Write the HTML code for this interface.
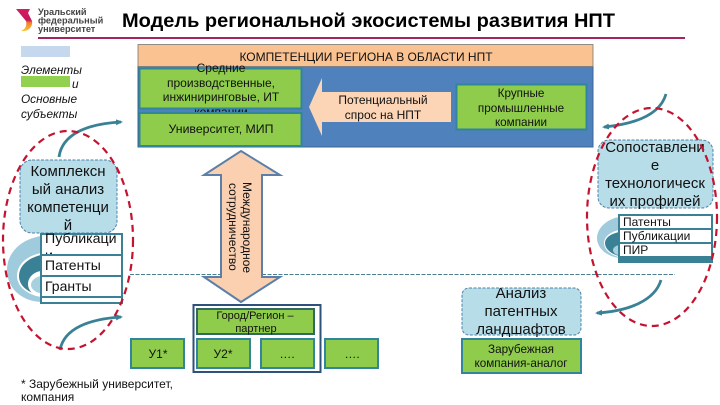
<!DOCTYPE html>
<html><head><meta charset="utf-8">
<style>
html,body{margin:0;padding:0;background:#fff}
svg{display:block;font-family:"Liberation Sans",sans-serif}
text{fill:#111}
.c{text-anchor:middle}
</style></head><body>
<svg width="720" height="405" viewBox="0 0 720 405" xmlns="http://www.w3.org/2000/svg">
<defs>
<linearGradient id="lg" x1="0" y1="0" x2="0" y2="1"><stop offset="0" stop-color="#d81b60"/><stop offset=".5" stop-color="#c2185b"/><stop offset=".62" stop-color="#f08030"/><stop offset="1" stop-color="#f9c433"/></linearGradient>
<marker id="ah" markerWidth="8" markerHeight="8" refX="5" refY="3" orient="auto" markerUnits="userSpaceOnUse"><path d="M0,0L7,3L0,6Z" fill="#3b8196"/></marker>
</defs>
<rect width="720" height="405" fill="#fff"/>
<!-- logo -->
<path d="M16,9H30L28,13L32,21C33,27 28,32 21,31C26,29 27,25 26,21Z" fill="url(#lg)"/>
<text x="38" y="15" font-size="9.2" font-weight="bold" style="fill:#444">Уральский</text>
<text x="38" y="23.5" font-size="9.2" font-weight="bold" style="fill:#444">федеральный</text>
<text x="38" y="32" font-size="9.2" font-weight="bold" style="fill:#444">университет</text>
<text x="122" y="27" font-size="19.5" font-weight="bold" style="fill:#000" textLength="493" lengthAdjust="spacingAndGlyphs">Модель региональной экосистемы развития НПТ</text>
<rect x="38" y="37" width="647" height="2" fill="#a3245f"/>
<!-- legend -->
<rect x="21" y="46" width="49" height="11" fill="#c5d8ee"/>
<text x="21" y="74" font-size="11.8" font-style="italic">Элементы</text>
<rect x="21" y="76" width="49" height="11" fill="#92d050"/>
<text x="72" y="88" font-size="11.8" font-style="italic">и</text>
<text x="21" y="103" font-size="11.8" font-style="italic">Основные</text>
<text x="21" y="118" font-size="11.8" font-style="italic">субъекты</text>
<!-- main block -->
<rect x="138" y="66" width="455" height="81" fill="#4f81bd" stroke="#3d6593"/>
<rect x="138" y="44.5" width="455" height="22" fill="#fac291" stroke="#777" stroke-width=".8"/>
<text x="366" y="61" class="c" font-size="12">КОМПЕТЕНЦИИ РЕГИОНА В ОБЛАСТИ НПТ</text>
<rect x="139.5" y="68.5" width="162" height="40" fill="#8fcc4c" stroke="#31859c" stroke-width="2"/>
<text x="221" y="72" class="c" font-size="12">Средние</text>
<text x="221" y="87" class="c" font-size="12">производственные,</text>
<text x="221" y="101" class="c" font-size="12">инжиниринговые, ИТ</text>
<text x="221" y="116" class="c" font-size="12">компании</text>
<rect x="139.5" y="113" width="162" height="33" fill="#8fcc4c" stroke="#31859c" stroke-width="2"/>
<text x="221" y="133" class="c" font-size="12.3">Университет, МИП</text>
<path d="M309,107L322,78V92H451V122H322V136Z" fill="#fbd5b5"/>
<text x="383" y="104" class="c" font-size="12">Потенциальный</text>
<text x="383" y="119" class="c" font-size="12">спрос на НПТ</text>
<rect x="456.5" y="84.5" width="130" height="45" fill="#8fcc4c" stroke="#31859c" stroke-width="2"/>
<text x="521" y="97" class="c" font-size="11.7">Крупные</text>
<text x="521" y="112" class="c" font-size="11.7">промышленные</text>
<text x="521" y="126" class="c" font-size="11.7">компании</text>
<!-- dashed divider -->
<line x1="130" y1="274.5" x2="675" y2="274.5" stroke="#4a7f90" stroke-width=".9" stroke-dasharray="4 1.5"/>
<!-- double arrow -->
<path d="M241,151L280,175H262V277H280L241,302L204,277H221V175H204Z" fill="#fbd0b0" stroke="#5b7fa8" stroke-width="2"/>
<text transform="translate(243,182) rotate(90)" font-size="12">Международное</text>
<text transform="translate(229,183) rotate(90)" font-size="12">сотрудничество</text>
<!-- city -->
<rect x="193.5" y="305" width="127" height="67" fill="#fff" stroke="#2f527d" stroke-width="2"/>
<rect x="197" y="309" width="117" height="25" fill="#8fcc4c" stroke="#31695f" stroke-width="2"/>
<text x="255" y="319" class="c" font-size="11">Город/Регион –</text>
<text x="256" y="332" class="c" font-size="11">партнер</text>
<g fill="#8fcc4c" stroke="#31859c" stroke-width="2">
<rect x="131" y="339" width="53" height="29"/>
<rect x="197" y="339" width="53" height="29"/>
<rect x="261" y="339" width="53" height="29"/>
<rect x="325" y="339" width="53" height="29"/>
</g>
<text x="158" y="358" class="c" font-size="12">У1*</text>
<text x="223" y="358" class="c" font-size="12">У2*</text>
<text x="287" y="358" class="c" font-size="12">….</text>
<text x="352" y="358" class="c" font-size="12">….</text>
<text x="21" y="388" font-size="12">* Зарубежный университет,</text>
<text x="21" y="401" font-size="12">компания</text>
<!-- left cluster -->
<path d="M41,236C18,240 7,255 7,270C7,287 20,301 41,302Z" fill="#9fcbdc"/>
<path d="M41,253C26,256 17,265 17,276C17,287 28,295 41,297Z" fill="#fff"/>
<path d="M41,255C28,258 19,266 19,276C19,286 28,293 41,295Z" fill="#3b8196"/>
<path d="M41,271C33,272 28,278 28,284C28,291 34,296 41,296Z" fill="#fff"/>
<path d="M41,276C35,277 31,281 31,285C31,289 36,293 41,293Z" fill="#a8d0de"/>
<rect x="20" y="160" width="97" height="73" rx="12" fill="#b7dde8" stroke="#4f81a8" stroke-dasharray="3 1.5"/>
<text x="68" y="176" class="c" font-size="15">Комплексн</text>
<text x="68" y="194" class="c" font-size="15">ый анализ</text>
<text x="68" y="212" class="c" font-size="15">компетенци</text>
<text x="68" y="230" class="c" font-size="15">й</text>
<rect x="41" y="234" width="81" height="21" fill="#fff" stroke="#3b8196" stroke-width="2"/>
<text x="45" y="243" font-size="14.2">Публикаци</text>
<text x="45" y="260" font-size="14.2">и</text>
<rect x="41" y="255" width="81" height="21" fill="#fff" stroke="#3b8196" stroke-width="2"/>
<text x="45" y="270" font-size="14">Патенты</text>
<rect x="41" y="276" width="81" height="21" fill="#fff" stroke="#3b8196" stroke-width="2"/>
<text x="45" y="291" font-size="14">Гранты</text>
<rect x="41" y="297" width="81" height="6" fill="#fff" stroke="#3b8196" stroke-width="2"/>
<!-- right cluster -->
<path d="M619,217C604,220 597,230 597,238C597,248 606,256 619,258Z" fill="#9fcbdc"/>
<path d="M619,230C610,232 604,237 604,243C604,250 611,255 619,257Z" fill="#fff"/>
<path d="M619,232C610,234 605,238 605,243C605,249 611,254 619,256Z" fill="#3b8196"/>
<path d="M619,245C615,246 613,248 613,250C613,253 616,255 619,255Z" fill="#a8d0de"/>
<rect x="598" y="140" width="115" height="68" rx="11" fill="#b7dde8" stroke="#4f81a8" stroke-dasharray="3 1.5"/>
<text x="655" y="152" class="c" font-size="15">Сопоставлени</text>
<text x="655" y="170" class="c" font-size="15">е</text>
<text x="655" y="188" class="c" font-size="15">технологическ</text>
<text x="655" y="206" class="c" font-size="15">их профилей</text>
<g fill="#fff" stroke="#3b8196" stroke-width="2">
<rect x="619" y="215" width="93" height="14"/>
<rect x="619" y="229" width="93" height="14"/>
<rect x="619" y="243" width="93" height="14"/>
</g>
<rect x="618" y="257" width="95" height="6" fill="#3b8196"/>
<text x="623" y="226" font-size="12">Патенты</text>
<text x="623" y="240" font-size="12">Публикации</text>
<text x="623" y="254" font-size="12">ПИР</text>
<!-- analysis -->
<rect x="462" y="288" width="119" height="47" rx="7" fill="#b7dde8" stroke="#4f81a8" stroke-dasharray="3 1.5"/>
<text x="521" y="298" class="c" font-size="15">Анализ</text>
<text x="521" y="316" class="c" font-size="15">патентных</text>
<text x="521" y="334" class="c" font-size="15">ландшафтов</text>
<rect x="462" y="339" width="119" height="34" fill="#8fcc4c" stroke="#31859c" stroke-width="2"/>
<text x="521" y="353" class="c" font-size="11.7">Зарубежная</text>
<text x="521" y="367" class="c" font-size="11.7">компания-аналог</text>
<!-- curved arrows -->
<g fill="none" stroke="#3b8196" stroke-width="2.8">
<path d="M59,157C62,135 85,124 121,122" marker-end="url(#ah)"/>
<path d="M60,350C64,328 90,319 121,317" marker-end="url(#ah)"/>
<path d="M666,94C660,115 635,124 604,127" marker-end="url(#ah)"/>
<path d="M661,280C655,300 630,311 597,313" marker-end="url(#ah)"/>
</g>
<!-- red ellipses -->
<ellipse cx="68" cy="240" rx="65" ry="109" fill="none" stroke="#c4122f" stroke-width="2.2" stroke-dasharray="7 5"/>
<ellipse cx="652" cy="217" rx="65" ry="109" fill="none" stroke="#c4122f" stroke-width="2.2" stroke-dasharray="7 5"/>
</svg>
</body></html>
